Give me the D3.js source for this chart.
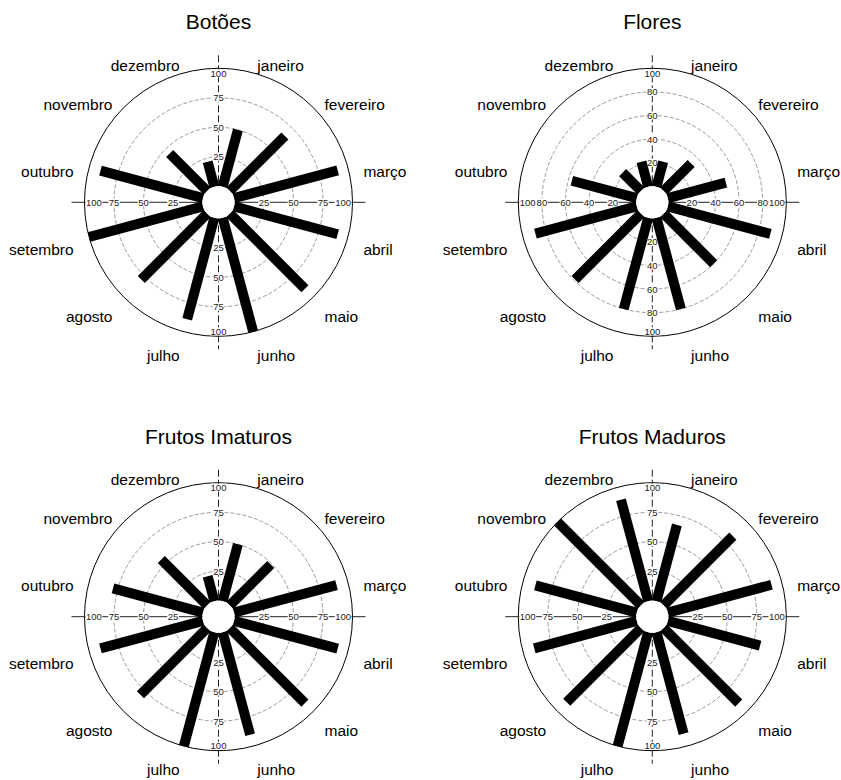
<!DOCTYPE html>
<html>
<head>
<meta charset="utf-8">
<script src="https://cdn.jsdelivr.net/npm/d3@7"></script>
<style>
  html, body { margin: 0; padding: 0; background: #fff; }
  svg { display: block; font-family: "Liberation Sans", Arial, sans-serif; }
</style>
</head>
<body>
<svg id="chart" width="841" height="780"></svg>
<script>
// Monthly phenology (% of individuals) for four phenophases
const months = ["janeiro", "fevereiro", "março", "abril", "maio", "junho",
                "julho", "agosto", "setembro", "outubro", "novembro", "dezembro"];

const botoes         = [50, 66, 91, 91, 90, 100, 89, 79, 100, 90, 45, 22];
const flores         = [22, 33, 51, 90, 60, 80, 80, 79, 89, 57, 22, 22];
const frutosImaturos = [50, 49, 90, 91, 90, 90, 100, 80, 90, 79, 55, 22];
const frutosMaduros  = [67, 83, 91, 81, 90, 89, 100, 89, 90, 89, 100, 89];

const ticksQuarters = [25, 50, 75, 100];
const ticksFifths   = [20, 40, 60, 80, 100];

const titles = ["Botões", "Flores", "Frutos Imaturos", "Frutos Maduros"];
const seriesList = [botoes, flores, frutosImaturos, frutosMaduros];
const tickList = [ticksQuarters, ticksFifths, ticksQuarters, ticksQuarters];

// panel grid: 2 columns x 2 rows
const colX = [218.5, 652.3];
const rowY = [202.3, 616.7];

const inner = 16, outer = 134;
const r = d3.scaleLinear().domain([0, 100]).range([inner, outer]);
const angle = d3.scaleLinear().domain([0, months.length]).range([0, 2 * Math.PI]);
const labelRadius = 150;
const axisHalf = 147;

const svg = d3.select("#chart");

seriesList.forEach((values, p) => {
  const cx = colX[p % 2], cy = rowY[Math.floor(p / 2)];
  const ticks = tickList[p];
  const g = svg.append("g").attr("transform", `translate(${cx},${cy})`);

  // title
  g.append("text")
    .attr("x", 0).attr("y", -173)
    .attr("text-anchor", "middle")
    .attr("font-size", 21)
    .attr("fill", "#000")
    .text(titles[p]);

  // dashed grid circles
  g.selectAll("circle.grid")
    .data(ticks.filter(t => t < 100))
    .join("circle")
    .attr("class", "grid")
    .attr("r", d => r(d))
    .attr("fill", "none")
    .attr("stroke", "#808080")
    .attr("stroke-width", 0.8)
    .attr("stroke-dasharray", "4,2");

  // outer circle
  g.append("circle")
    .attr("r", r(100))
    .attr("fill", "none")
    .attr("stroke", "#000")
    .attr("stroke-width", 1);

  // cross axes
  g.append("line")
    .attr("x1", -axisHalf).attr("x2", axisHalf)
    .attr("y1", 0).attr("y2", 0)
    .attr("stroke", "#222").attr("stroke-width", 1);
  g.append("line")
    .attr("x1", 0).attr("x2", 0)
    .attr("y1", -axisHalf).attr("y2", axisHalf)
    .attr("stroke", "#222").attr("stroke-width", 1)
    .attr("stroke-dasharray", "7,3");

  // tick labels along the four half-axes
  const tickData = [];
  ticks.forEach(t => {
    [[-1, 0], [1, 0], [0, -1], [0, 1]].forEach(dir => tickData.push({ t, dir }));
  });
  const tg = g.append("g").attr("font-size", 9.5).attr("fill", "#222");
  tickData.forEach(d => {
    const item = tg.append("g");
    const txt = item.append("text")
      .attr("text-anchor", "middle")
      .attr("dominant-baseline", "central")
      .text(d.t);
    const bb = txt.node().getBBox();
    const halfW = bb.width / 2, halfH = bb.height / 2 - 1.5;
    // keep the outermost label inside the circle
    let rad = r(d.t);
    if (d.t === ticks[ticks.length - 1]) {
      rad = outer - (d.dir[0] !== 0 ? halfW + 1.5 : halfH + 1);
    }
    const x = d.dir[0] * rad, y = d.dir[1] * rad;
    txt.attr("x", x).attr("y", y);
    item.insert("rect", "text")
      .attr("x", x - halfW - 0.5).attr("y", y - halfH)
      .attr("width", bb.width + 1).attr("height", halfH * 2)
      .attr("fill", "#fff");
  });

  // bars
  g.selectAll("line.bar")
    .data(values)
    .join("line")
    .attr("class", "bar")
    .attr("x1", (d, i) => inner * Math.sin(angle(i + 0.5)))
    .attr("y1", (d, i) => -inner * Math.cos(angle(i + 0.5)))
    .attr("x2", (d, i) => r(d) * Math.sin(angle(i + 0.5)))
    .attr("y2", (d, i) => -r(d) * Math.cos(angle(i + 0.5)))
    .attr("stroke", "#000")
    .attr("stroke-width", 10)
    .attr("stroke-linecap", "butt");

  // white hub
  g.append("circle")
    .attr("r", inner)
    .attr("fill", "#fff");

  // month labels
  g.selectAll("text.month")
    .data(months)
    .join("text")
    .attr("class", "month")
    .attr("x", (d, i) => labelRadius * Math.sin(angle(i + 0.5)))
    .attr("y", (d, i) => -labelRadius * Math.cos(angle(i + 0.5)) + 13.5)
    .attr("text-anchor", (d, i) => Math.sin(angle(i + 0.5)) > 0 ? "start" : "end")
    .attr("font-size", 15.5)
    .attr("fill", "#000")
    .text(d => d);
});
</script>
</body>
</html>
